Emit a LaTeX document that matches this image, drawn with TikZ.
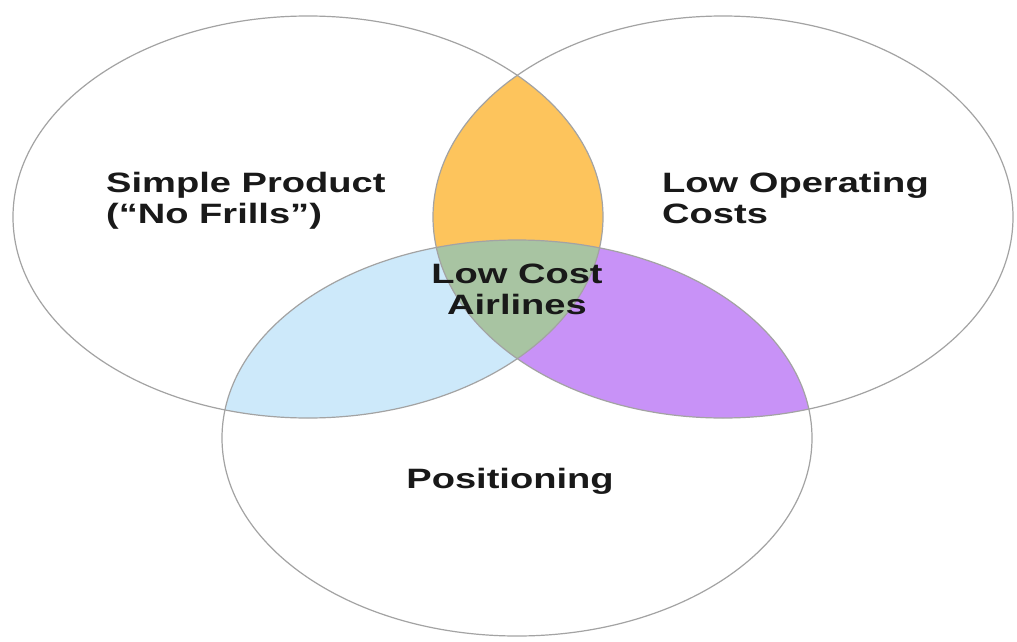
\documentclass[tikz,border=0pt]{standalone}
\usepackage{fontspec}
\setmainfont{Liberation Sans}
\usepackage{graphicx}
\usepackage{xcolor}
\usetikzlibrary{positioning}

\definecolor{venorange}{HTML}{FDC45C}
\definecolor{venblue}{HTML}{CDE9FA}
\definecolor{venpurple}{HTML}{C892F7}
\definecolor{vengreen}{HTML}{A8C4A2}
\definecolor{venline}{HTML}{A3A3A3}
\newcommand{\widetxt}[1]{\scalebox{1.36}[1]{#1}}

\begin{document}
\begin{tikzpicture}[x=1pt,y=-1pt,
        set/.style={draw=venline,line width=1.2pt},
        lbl/.style={font=\fontsize{28}{31}\selectfont\bfseries,inner sep=0pt,text=black!90}]
            \useasboundingbox[fill=white] (0,0) rectangle (1017,642);
            \def\leftset{(308,217) ellipse [x radius=295, y radius=201]}
            \def\rightset{(723,217) ellipse [x radius=290, y radius=201]}
            \def\bottomset{(517,438) ellipse [x radius=295, y radius=198]}

            % pairwise overlaps
            \begin{scope}
                \clip \leftset;
                \fill[venorange] \rightset;
                \fill[venblue] \bottomset;
            \end{scope}
            \begin{scope}
                \clip \rightset;
                \fill[venpurple] \bottomset;
            \end{scope}
            \begin{scope}
                \clip \leftset;
                \clip \rightset;
                \fill[vengreen] \bottomset;
            \end{scope}

            \draw[set] \leftset;
            \draw[set] \rightset;
            \draw[set] \bottomset;

            \node[lbl,anchor=base west,align=left] (simple) at (106,223)
                {\widetxt{Simple Product}\\\widetxt{(“No Frills”)}};
            \node[lbl,anchor=base west,align=left] (costs) at (662,223)
                {\widetxt{Low Operating}\\\widetxt{Costs}};
            \node[lbl,anchor=base,align=center] (lowcost) at (517,314)
                {\widetxt{Low Cost}\\\widetxt{Airlines}};
            \node[lbl,anchor=base] (pos) at (510,488) {\widetxt{Positioning}};
        \end{tikzpicture}
\end{document}
